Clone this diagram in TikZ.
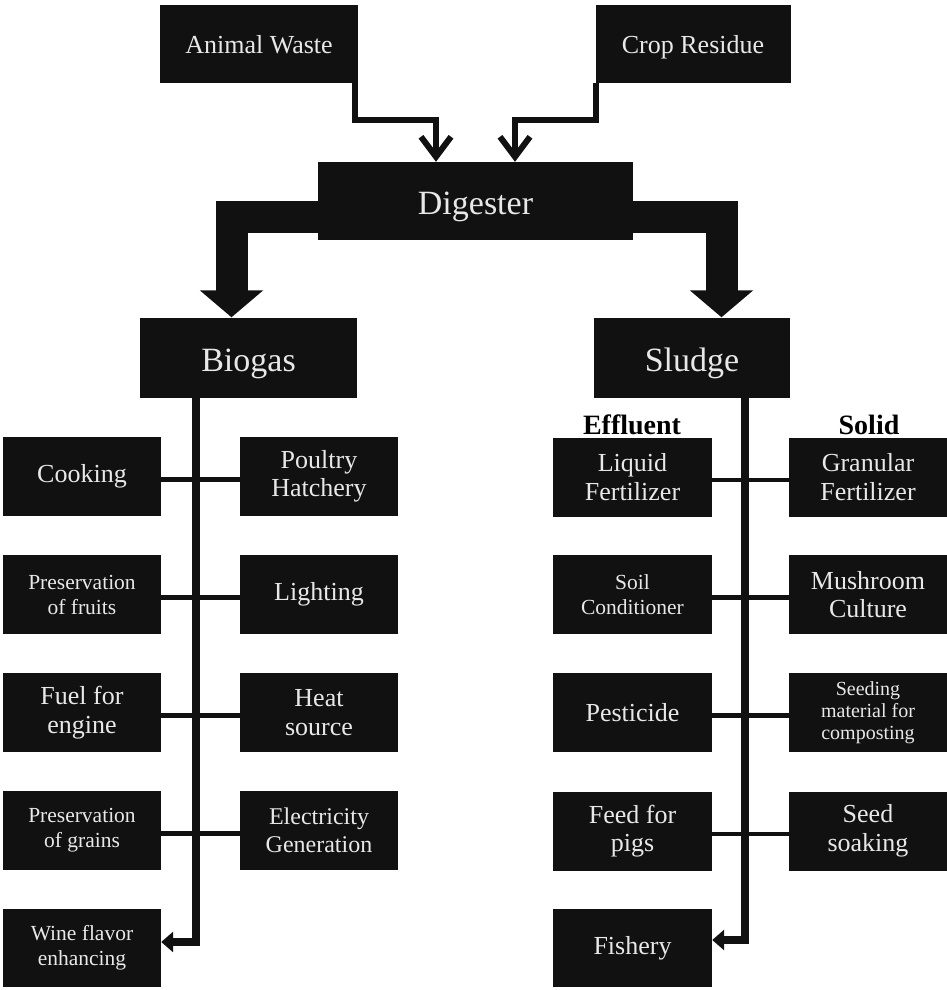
\documentclass[tikz,border=0pt]{standalone}
\usepackage{fontspec}
\setmainfont{Liberation Serif}
\usetikzlibrary{arrows.meta}
\definecolor{boxc}{HTML}{111111}
\definecolor{txtc}{HTML}{E8E8E8}
\newcommand{\fbig}{\fontsize{26}{28.5}\selectfont}
\newcommand{\fsmall}{\fontsize{21.5}{25}\selectfont}
\newcommand{\ftiny}{\fontsize{20}{22}\selectfont}
\newcommand{\ftitle}{\fontsize{34}{40}\selectfont}
\begin{document}
\begin{tikzpicture}[x=1pt,y=-1pt,
  box/.style={fill=boxc,text=txtc,inner sep=0pt,align=center,minimum height=79pt,minimum width=158pt,font=\fbig},
  smallbox/.style={box,font=\fsmall},
  tinybox/.style={box,font=\ftiny},
  titlebox/.style={box,font=\ftitle,text height=35pt,text depth=7.5pt},
  conn/.style={draw=boxc,line width=4.5pt},
  trunk/.style={draw=boxc,line width=8.5pt,line join=miter,-{Triangle[length=12pt,width=20pt]}},
  bigarrow/.style={draw=boxc,line width=32pt,line join=miter,-{Triangle[length=27pt,width=62pt]}},
  feed/.style={draw=boxc,line width=6pt,line join=miter,-{Straight Barb[length=20pt,width=30pt]}},
  head/.style={text=black,anchor=base,font=\bfseries\fontsize{28}{30}\selectfont}
]
\useasboundingbox (0,0) rectangle (947,990);

% top row
\node[box,minimum width=198pt,minimum height=78pt,text height=21pt,text depth=3pt] (aw) at (259,44) {Animal Waste};
\node[box,minimum width=195pt,minimum height=78pt,text height=21pt,text depth=3pt] (cr) at (693,44) {Crop Residue};
\node[titlebox,minimum width=315pt,minimum height=78pt] (dig) at (475.5,201) {Digester};
\node[titlebox,minimum width=217pt,minimum height=80pt] (bio) at (248.5,357.5) {Biogas};
\node[titlebox,minimum width=196pt,minimum height=80pt] (slu) at (692,357.5) {Sludge};

% biogas uses
\node[box] (c1) at (82,476.5) {Cooking};
\node[box] (c2) at (319,476.5) {Poultry\\Hatchery};
\node[smallbox] (c3) at (82,594.5) {Preservation\\of fruits};
\node[box] (c4) at (319,594.5) {Lighting};
\node[box] (c5) at (82,712.5) {Fuel for\\engine};
\node[box] (c6) at (319,712.5) {Heat\\source};
\node[smallbox] (c7) at (82,830.5) {Preservation\\of grains};
\node[box,font=\fontsize{24}{28}\selectfont] (c8) at (319,830.5) {Electricity\\Generation};
\node[smallbox,minimum height=78pt] (c9) at (82,948) {Wine flavor\\enhancing};

% sludge uses
\node[head] (eff) at (632,434) {Effluent};
\node[head] (sol) at (869,434) {Solid};
\node[box,minimum width=159pt] (s1) at (632.5,477) {Liquid\\Fertilizer};
\node[box] (s2) at (868,477) {Granular\\Fertilizer};
\node[smallbox,minimum width=159pt] (s3) at (632.5,594.5) {Soil\\Conditioner};
\node[box] (s4) at (868,594.5) {Mushroom\\Culture};
\node[box,minimum width=159pt] (s5) at (632.5,712.5) {Pesticide};
\node[tinybox] (s6) at (868,712.5) {Seeding\\material for\\composting};
\node[box,minimum width=159pt] (s7) at (632.5,831) {Feed for\\pigs};
\node[box] (s8) at (868,831) {Seed\\soaking};
\node[box,minimum width=159pt,minimum height=78pt] (s9) at (632.5,948) {Fishery};

% feed arrows into digester
\coordinate (aj) at (436,120);
\coordinate (cj) at (515,120);
\draw[feed] ([xshift=-3pt]aw.south east) |- (aj) -- (aj |- dig.north);
\draw[feed] ([xshift=1pt]cr.south west) |- (cj) -- (cj |- dig.north);

% big arrows out of digester
\coordinate (bx) at (231.5,0);
\coordinate (sx) at (721.5,0);
\draw[bigarrow] ([yshift=-16pt]dig.west) -| (bio.north -| bx);
\draw[bigarrow] ([yshift=-16pt]dig.east) -| (slu.north -| sx);

% trunks
\coordinate (bt) at (196,0);
\coordinate (st) at (745,0);
\draw[trunk] (bio.south -| bt) |- ([yshift=6pt]c9.east);
\draw[trunk] (slu.south -| st) |- ([yshift=8pt]s9.east);

% branch connectors
\foreach \a/\b in {c1/c2,c3/c4,c5/c6,c7/c8,s1/s2,s3/s4,s5/s6,s7/s8}
  \draw[conn] ([yshift=-3pt]\a.east) -- ([yshift=-3pt]\b.west);
\end{tikzpicture}
\end{document}
